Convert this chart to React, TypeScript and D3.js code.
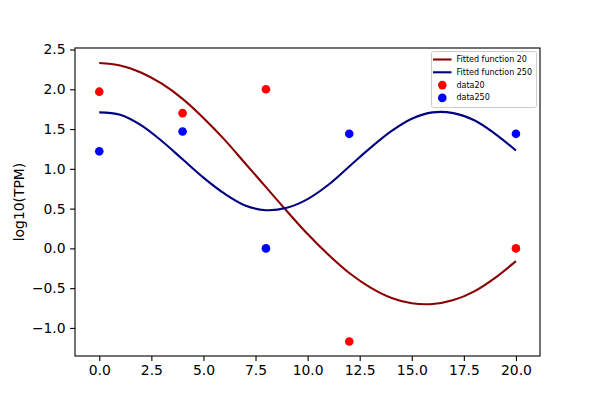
import React, { useEffect, useRef } from 'react'
import * as d3 from 'd3'

// scatter data
const sampleTimes = [0, 4, 8, 12, 20]
const data20 = [1.97, 1.7, 2.0, -1.17, 0.0]
const data250 = [1.22, 1.47, 0.0, 1.44, 1.44]

// fitted curves at every unit of x
const fitX = [0, 1, 2, 3, 4, 5, 6, 7, 8, 9, 10, 11, 12, 13, 14, 15, 16, 17, 18, 19, 20]
const fit20 = [2.33, 2.3, 2.21, 2.07, 1.88, 1.64, 1.37, 1.07, 0.77, 0.47, 0.18, -0.08, -0.31, -0.49, -0.62, -0.69, -0.7, -0.65, -0.54, -0.37, -0.16]
const fit250 = [1.71, 1.68, 1.55, 1.35, 1.12, 0.89, 0.69, 0.54, 0.48, 0.51, 0.62, 0.8, 1.03, 1.26, 1.47, 1.63, 1.71, 1.7, 1.61, 1.44, 1.23]

const xTicks = [0, 2.5, 5, 7.5, 10, 12.5, 15, 17.5, 20]
const yTicks = [-1.0, -0.5, 0.0, 0.5, 1.0, 1.5, 2.0, 2.5]

const legendItems = [
  { label: 'Fitted function 20', kind: 'line', color: '#8b0000' },
  { label: 'Fitted function 250', kind: 'line', color: '#000080' },
  { label: 'data20', kind: 'dot', color: '#ff0000' },
  { label: 'data250', kind: 'dot', color: '#0000ff' },
]

export default function App() {
  const svgRef = useRef<SVGSVGElement>(null)

  useEffect(() => {
    if (!svgRef.current) return
    const root = d3.select(svgRef.current)
    root.selectAll('*').remove()

    const W = 600
    const H = 400
    const margin = { top: 48, right: 60, bottom: 44, left: 75 }
    const width = W - margin.left - margin.right
    const height = H - margin.top - margin.bottom
    const font = 'DejaVu Sans, sans-serif'

    root.attr('width', W).attr('height', H)
    root.append('rect').attr('width', W).attr('height', H).attr('fill', '#fff')

    const svg = root.append('g').attr('transform', `translate(${margin.left},${margin.top})`)

    const x = d3.scaleLinear().domain([-1.165, 21.155]).range([0, width])
    const y = d3.scaleLinear().domain([-1.353, 2.519]).range([height, 0])

    // curves
    const line = d3.line<number>()
      .x((_, i) => x(fitX[i]))
      .y(d => y(d))
      .curve(d3.curveCatmullRom)

    svg.append('path').datum(fit20)
      .attr('fill', 'none').attr('stroke', '#8b0000').attr('stroke-width', 2.1)
      .attr('d', line)
    svg.append('path').datum(fit250)
      .attr('fill', 'none').attr('stroke', '#000080').attr('stroke-width', 2.1)
      .attr('d', line)

    // scatter
    svg.selectAll('.d20').data(data20).enter().append('circle')
      .attr('class', 'd20')
      .attr('cx', (_, i) => x(sampleTimes[i]))
      .attr('cy', d => y(d))
      .attr('r', 4.3)
      .attr('fill', '#ff0000')
    svg.selectAll('.d250').data(data250).enter().append('circle')
      .attr('class', 'd250')
      .attr('cx', (_, i) => x(sampleTimes[i]))
      .attr('cy', d => y(d))
      .attr('r', 4.3)
      .attr('fill', '#0000ff')

    // axes
    const xAxis = svg.append('g')
      .attr('transform', `translate(0,${height})`)
      .call(d3.axisBottom(x).tickValues(xTicks).tickFormat(d3.format('.1f')).tickSizeOuter(0).tickSize(4.9).tickPadding(4.5))
    const yAxis = svg.append('g')
      .call(d3.axisLeft(y).tickValues(yTicks).tickFormat(d3.format('.1f')).tickSizeOuter(0).tickSize(4.9).tickPadding(4.5))

    for (const ax of [xAxis, yAxis]) {
      ax.select('.domain').remove()
      ax.selectAll('.tick line').attr('stroke', '#000').attr('stroke-width', 1.1)
      ax.selectAll('.tick text')
        .attr('fill', '#000')
        .style('font-family', font)
        .style('font-size', '13.9px')
    }

    // spines
    svg.append('rect')
      .attr('width', width).attr('height', height)
      .attr('fill', 'none').attr('stroke', '#000').attr('stroke-width', 1.1)

    // y label
    root.append('text')
      .attr('transform', `translate(18.5,${margin.top + height / 2}) rotate(-90)`)
      .attr('text-anchor', 'middle')
      .attr('dominant-baseline', 'central')
      .style('font-family', font)
      .style('font-size', '13.9px')
      .text('log10(TPM)')

    // legend
    const lg = root.append('g').attr('transform', 'translate(431.5,51.5)')
    lg.append('rect')
      .attr('width', 105).attr('height', 56)
      .attr('rx', 2)
      .attr('fill', '#fff').attr('fill-opacity', 0.8)
      .attr('stroke', '#cccccc').attr('stroke-width', 1)
    legendItems.forEach((it, i) => {
      const cy = 8 + i * 12.8
      if (it.kind === 'line') {
        lg.append('line')
          .attr('x1', 1.5).attr('x2', 20).attr('y1', cy).attr('y2', cy)
          .attr('stroke', it.color).attr('stroke-width', 2.1)
      } else {
        lg.append('circle').attr('cx', 10.8).attr('cy', cy).attr('r', 4.3).attr('fill', it.color)
      }
      lg.append('text')
        .attr('x', 25).attr('y', cy)
        .attr('dominant-baseline', 'central')
        .style('font-family', font)
        .style('font-size', '8px')
        .text(it.label)
    })
  }, [])

  return (
    <div style={{ position: 'absolute', left: 0, top: 0 }}>
      <svg ref={svgRef} style={{ display: 'block' }}></svg>
    </div>
  )
}
